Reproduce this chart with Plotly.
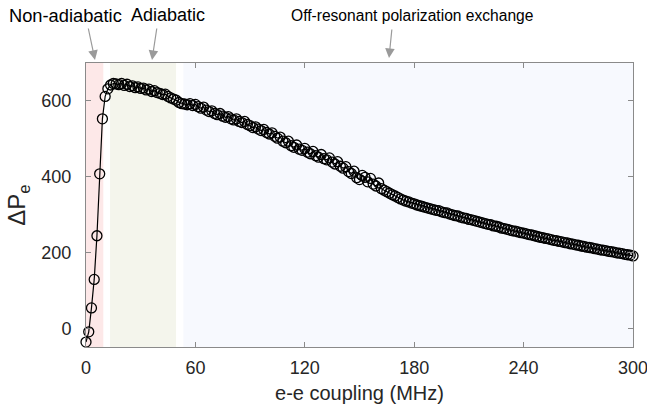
import plotly.graph_objects as go

# e-e coupling grid (MHz), sampled every 1.5 MHz from 0 to 300
coupling_mhz = [round(i * 1.5, 1) for i in range(201)]

delta_pe = [
    -35, -8, 55, 130, 245, 408, 553, 612, 632, 642,
    646, 645, 643, 646, 641, 644, 638, 640, 635, 637,
    633, 634, 629, 631, 625, 627, 622, 620, 617, 618,
    612, 608, 605, 602, 596, 593, 592, 590, 593, 588,
    591, 585, 581, 584, 576, 572, 574, 567, 564, 567,
    560, 557, 559, 553, 550, 553, 546, 543, 546, 538,
    535, 530, 532, 526, 522, 525, 517, 513, 516, 507,
    502, 505, 494, 490, 494, 482, 478, 484, 473, 470,
    475, 465, 461, 467, 456, 452, 459, 448, 445, 450,
    439, 434, 440, 428, 423, 427, 414, 409, 415, 398,
    393, 404, 399, 387, 396, 381, 376, 384, 369, 365,
    361, 357, 353, 350, 346, 342, 339, 336, 334, 331,
    329, 326, 324, 322, 320, 318, 316, 314, 312, 311,
    308, 306, 305, 302, 300, 298, 297, 294, 292, 291,
    288, 287, 285, 283, 281, 279, 277, 275, 274, 271,
    270, 268, 265, 264, 262, 260, 258, 257, 255, 253,
    252, 250, 248, 247, 245, 243, 241, 240, 238, 237,
    235, 233, 232, 230, 229, 227, 226, 224, 223, 221,
    220, 218, 217, 215, 214, 213, 211, 210, 208, 207,
    206, 204, 203, 202, 200, 199, 198, 196, 195, 194,
    192,
]

x_ticks = [0, 60, 120, 180, 240, 300]
y_ticks = [0, 200, 400, 600]

# regime bands (MHz)
band_names = ["Non-adiabatic", "Adiabatic", "Off-resonant polarization exchange"]
band_start = [0, 13.2, 53.4]
band_end = [9.5, 49.4, 300]
band_colors = ["#fde8e8", "#f4f5ec", "#f7f9fe"]

FONT = "Liberation Sans, Arial, Helvetica, sans-serif"

fig = go.Figure()
fig.add_trace(go.Scatter(
    x=coupling_mhz, y=delta_pe, mode="lines+markers",
    line=dict(color="black", width=1.2),
    marker=dict(symbol="circle-open", size=10, color="black", line=dict(width=1.3)),
    showlegend=False, cliponaxis=False,
))

shapes = []
for s, e, c in zip(band_start, band_end, band_colors):
    shapes.append(dict(type="rect", xref="x", yref="paper", x0=s, x1=e, y0=0, y1=1,
                       fillcolor=c, line=dict(width=0), layer="below"))

W, H = 647, 406
ml, mr, mt, mb = 86, 14, 63, 59
pw, ph = W - ml - mr, H - mt - mb

def px2paper(px, py):
    return (px - ml) / pw, (H - mb - py) / ph

annotations = []
text_pos = [(65, 15), (168, 15), (412, 15)]
text_size = [18.3, 18, 15.6]
arrow_tip = [(95, 60), (152, 60), (389, 58)]
arrow_tail = [(88, 27), (157, 27), (392, 28)]
for name, tp, sz, tip, tail in zip(band_names, text_pos, text_size, arrow_tip, arrow_tail):
    x, y = px2paper(*tp)
    annotations.append(dict(text=name, x=x, y=y, xref="paper", yref="paper",
                            showarrow=False, font=dict(family=FONT, size=sz, color="black"),
                            xanchor="center", yanchor="middle"))
    ax_, ay_ = px2paper(*tip)
    annotations.append(dict(text="", x=ax_, y=ay_, xref="paper", yref="paper",
                            ax=tail[0] - tip[0], ay=tail[1] - tip[1],
                            showarrow=True, arrowhead=2, arrowsize=1.6, arrowwidth=1.2,
                            arrowcolor="#9a9a9a", standoff=0))

axis_common = dict(showline=True, linecolor="#8a8a8a", linewidth=1, mirror="ticks",
                   ticks="inside", ticklen=5, tickcolor="#8a8a8a", showgrid=False,
                   zeroline=False, automargin=False, ticklabeloverflow="allow",
                   tickfont=dict(family=FONT, size=18, color="#262626"))

fig.update_layout(
    width=W, height=H,
    margin=dict(l=ml, r=mr, t=mt, b=mb, pad=0, autoexpand=False),
    paper_bgcolor="white", plot_bgcolor="white",
    shapes=shapes, annotations=annotations,
    xaxis=dict(range=[0, 300], tickvals=x_ticks,
               title=dict(text="e-e coupling (MHz)", font=dict(family=FONT, size=20, color="#262626"),
                          standoff=9),
               ticklabelstandoff=4, **axis_common),
    yaxis=dict(range=[-48, 700], tickvals=y_ticks,
               title=dict(text="ΔP<sub>e</sub>", font=dict(family=FONT, size=24, color="#262626"),
                          standoff=8),
               ticklabelstandoff=10, **axis_common),
)

fig.write_html("out.html", config={"displayModeBar": False},
               post_script="document.body.style.margin='0';")
